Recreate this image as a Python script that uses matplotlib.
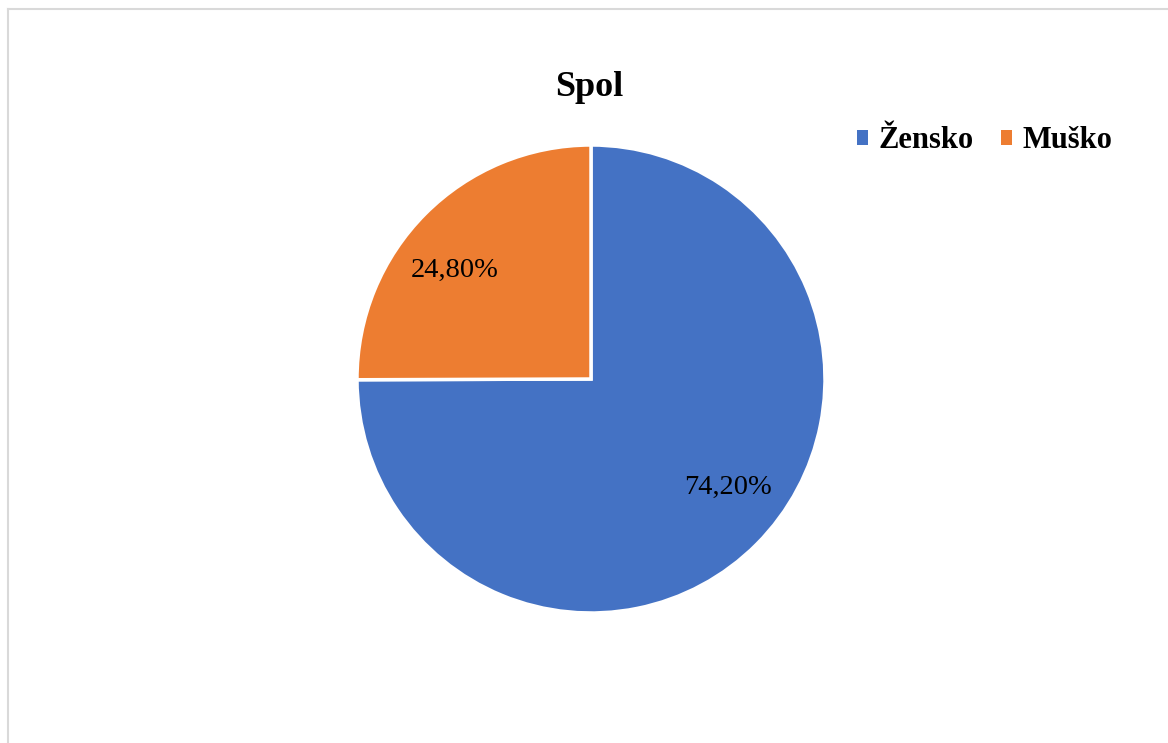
import numpy as np
import matplotlib
matplotlib.use("Agg")
import matplotlib.pyplot as plt
from matplotlib.lines import Line2D

# data
categories = ["Žensko", "Muško"]
values = [74.20, 24.80]
value_labels = ["74,20%", "24,80%"]
colors = ["#4472C4", "#ED7D31"]

plt.rcParams['font.family'] = ['Liberation Serif', 'DejaVu Serif']

W, H = 1168, 743
fig = plt.figure(figsize=(W / 100, H / 100), dpi=100)

# pie axes placed so the circle sits at (591, 379) px, r = 234 px
cx, cy, r = 591, 379, 234
ax = fig.add_axes([(cx - r) / W, (H - cy - r) / H, 2 * r / W, 2 * r / H])
wedges, _ = ax.pie(values, colors=colors, startangle=90, counterclock=False,
                   radius=1, wedgeprops=dict(edgecolor="white", linewidth=2.5))
ax.set_xlim(-1, 1)
ax.set_ylim(-1, 1)
ax.set_aspect("equal")
ax.axis("off")

# value labels inside wedges (slightly rotated from the wedge middle, like excel)
for w, lab in zip(wedges, value_labels):
    mid = np.deg2rad((w.theta1 + w.theta2) / 2 + 6.5)
    ax.text(0.745 * np.cos(mid), 0.745 * np.sin(mid), lab,
            ha="center", va="center", fontsize=20.5, color="black")

# title
fig.text(589 / W, 1 - 87 / H, "Spol", ha="center", va="center",
         fontsize=26, fontweight="bold")

# legend
leg = fig.legend(wedges, categories, loc="center", ncol=2,
                 bbox_to_anchor=(985 / W, 1 - 141 / H), frameon=False,
                 prop=dict(size=22, weight="bold"),
                 handlelength=0.35, handleheight=0.35, handletextpad=0.35,
                 columnspacing=0.9)
for h in leg.legend_handles:
    h.set_edgecolor("none")

# chart border (only left and top visible)
fig.add_artist(Line2D([7.5 / W, 7.5 / W], [0, 1 - 9 / H], transform=fig.transFigure,
                      color="#d9d9d9", linewidth=1.5))
fig.add_artist(Line2D([7.5 / W, 1], [1 - 9 / H, 1 - 9 / H], transform=fig.transFigure,
                      color="#d9d9d9", linewidth=1.5))

fig.savefig("out.png", dpi=100, facecolor="white")
